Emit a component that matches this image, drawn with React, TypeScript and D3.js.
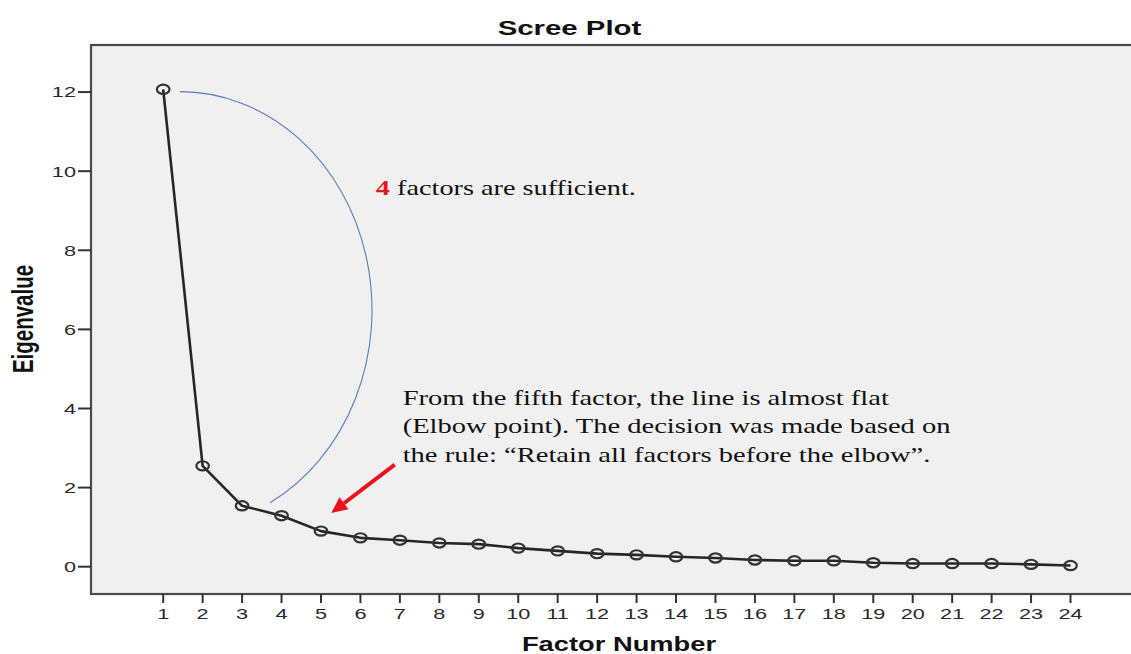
import React from "react";
import * as d3 from "d3";

const factorNumbers = [1, 2, 3, 4, 5, 6, 7, 8, 9, 10, 11, 12, 13, 14, 15, 16, 17, 18, 19, 20, 21, 22, 23, 24];
const eigenvalues = [12.07, 2.55, 1.54, 1.29, 0.9, 0.73, 0.67, 0.6, 0.57, 0.47, 0.4, 0.33, 0.3, 0.25, 0.22, 0.17, 0.15, 0.15, 0.1, 0.08, 0.08, 0.08, 0.06, 0.03];
const yTicks = [0, 2, 4, 6, 8, 10, 12];

const title = "Scree Plot";
const xTitle = "Factor Number";
const yTitle = "Eigenvalue";
const note1Bold = "4";
const note1Rest = " factors are sufficient.";
const note2Lines = [
  "From the fifth factor, the line is almost flat",
  "(Elbow point). The decision was made based on",
  "the rule: \u201cRetain all factors before the elbow\u201d.",
];

// annotation anchors in data units
const arcCenter = [1.423, 6.49];
const arcRadii = [4.87, 5.52];
const arcAngles = [-90, 62]; // degrees, screen orientation
const arrowTail = [6.87, 2.58];
const arrowTip = [5.26, 1.36];
const note1Pos = [6.39, 9.4];
const note2Pos = [7.07, 4.1];

const W = 1131;
const H = 654;
const SX = 1.4; // horizontal stretch of the glyphs in the source image

export default function App() {
  const x = d3.scaleLinear().domain([-0.83, 25.83]).range([91, 1142.7]);
  const y = d3.scaleLinear().domain([-0.69, 13.19]).range([594, 45]);
  const [x0, x1] = x.range();
  const [yb, yt] = y.range();

  const pts = factorNumbers.map((f, i) => [x(f), y(eigenvalues[i])] as [number, number]);
  const line = d3.line()(pts) || "";

  const pxPerX = x(1) - x(0);
  const pxPerY = y(0) - y(1);
  const cxp = x(arcCenter[0]), cyp = y(arcCenter[1]);
  const rxp = arcRadii[0] * pxPerX, ryp = arcRadii[1] * pxPerY;
  const a0 = (arcAngles[0] * Math.PI) / 180, a1 = (arcAngles[1] * Math.PI) / 180;
  const sx0 = cxp + rxp * Math.cos(a0), sy0 = cyp + ryp * Math.sin(a0);
  const sx1 = cxp + rxp * Math.cos(a1), sy1 = cyp + ryp * Math.sin(a1);
  const arcPath = `M${sx0},${sy0} A${rxp},${ryp} 0 0 1 ${sx1},${sy1}`;

  const tx = x(arrowTail[0]), ty = y(arrowTail[1]);
  const hx = x(arrowTip[0]), hy = y(arrowTip[1]);
  const ang = Math.atan2(hy - ty, hx - tx);
  const headLen = 16, headHalf = 7.5;
  const bx = hx - headLen * Math.cos(ang), by = hy - headLen * Math.sin(ang);
  const px = -Math.sin(ang), py = Math.cos(ang);
  const head = `M${hx},${hy} L${bx + px * headHalf},${by + py * headHalf} L${bx - px * headHalf},${by - py * headHalf} Z`;

  const sans = "'Liberation Sans', Arial, sans-serif";
  const serif = "'Liberation Serif', 'Times New Roman', serif";

  return (
    <svg width={W} height={H} style={{ position: "absolute", left: 0, top: 0, background: "#fff" }}>
      <rect x={x0} y={yt} width={x1 - x0} height={yb - yt} fill="#f0f0f0" stroke="#4a4a4a" strokeWidth={2.2} />

      {/* title */}
      <text transform={`translate(569.5,35) scale(${SX},1)`} textAnchor="middle" fontFamily={sans} fontWeight="bold" fontSize={21} fill="#111">
        {title}
      </text>

      {/* y axis ticks */}
      {yTicks.map((t) => (
        <g key={"y" + t}>
          <line x1={x0 - 13} x2={x0} y1={y(t)} y2={y(t)} stroke="#333" strokeWidth={2} />
          <text transform={`translate(${x0 - 15},${y(t) + 5.4}) scale(${SX},1)`} textAnchor="end" fontFamily={sans} fontSize={15.5} fill="#2a2a2a">
            {t}
          </text>
        </g>
      ))}

      {/* x axis ticks */}
      {factorNumbers.map((f) => (
        <g key={"x" + f}>
          <line x1={x(f)} x2={x(f)} y1={yb} y2={yb + 9} stroke="#333" strokeWidth={2} />
          <text transform={`translate(${x(f)},618.5) scale(${SX},1)`} textAnchor="middle" fontFamily={sans} fontSize={15.5} fill="#2a2a2a">
            {f}
          </text>
        </g>
      ))}

      {/* axis titles */}
      <text transform={`translate(619,650.5) scale(${SX},1)`} textAnchor="middle" fontFamily={sans} fontWeight="bold" fontSize={19.5} fill="#111">
        {xTitle}
      </text>
      <text transform={`translate(33,319) scale(${SX},1) rotate(-90)`} textAnchor="middle" fontFamily={sans} fontWeight="bold" fontSize={20.5} fill="#111">
        {yTitle}
      </text>

      {/* scree line */}
      <path d={line} fill="none" stroke="#262626" strokeWidth={2.6} strokeLinejoin="round" />
      {pts.map(([cx, cy], i) => (
        <ellipse key={"p" + i} cx={cx} cy={cy} rx={6.3} ry={4.6} fill="none" stroke="#333" strokeWidth={2.2} />
      ))}

      {/* annotations */}
      <path d={arcPath} fill="none" stroke="#5a7bbf" strokeWidth={1.1} />
      <line x1={tx} y1={ty} x2={bx} y2={by} stroke="#e8141c" strokeWidth={4} />
      <path d={head} fill="#e8141c" />

      <text transform={`translate(${x(note1Pos[0])},${y(note1Pos[1])}) scale(${SX},1)`} fontFamily={serif} fontSize={20.2} fill="#111">
        <tspan fill="#e3191f" fontWeight="bold">{note1Bold}</tspan>
        <tspan>{note1Rest}</tspan>
      </text>
      <text transform={`translate(${x(note2Pos[0])},${y(note2Pos[1])}) scale(${SX},1)`} fontFamily={serif} fontSize={20.4} fill="#111">
        {note2Lines.map((l, i) => (
          <tspan key={i} x={0} dy={i === 0 ? 0 : 28.5}>
            {l}
          </tspan>
        ))}
      </text>
    </svg>
  );
}
